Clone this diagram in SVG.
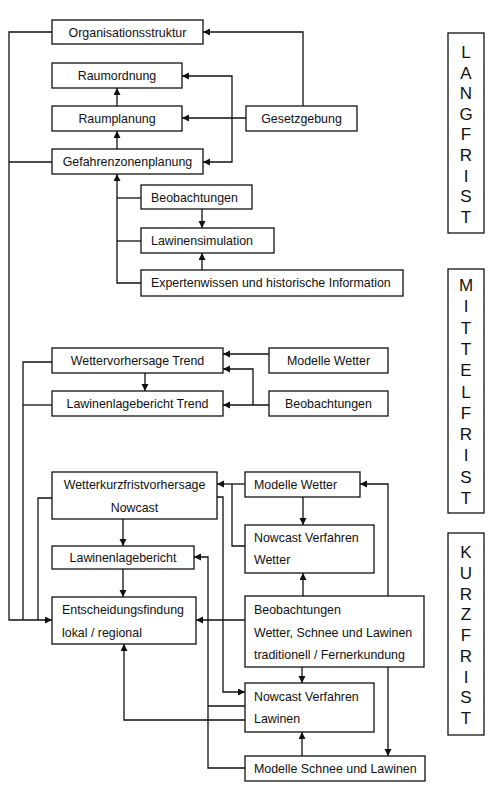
<svg xmlns="http://www.w3.org/2000/svg" width="500" height="795" viewBox="0 0 500 795">
<style>
.b{fill:#fff;stroke:#111;stroke-width:1.3}
.t{font-family:"Liberation Sans",Arial,sans-serif;font-size:12.4px;fill:#111}
.c{text-anchor:middle}
.l{font-family:"Liberation Sans",Arial,sans-serif;font-size:17px;fill:#111;text-anchor:middle}
#conn path{fill:none;stroke:#111;stroke-width:1.3}
.a{marker-end:url(#ah)}
</style>
<defs>
<marker id="ah" markerUnits="userSpaceOnUse" markerWidth="8" markerHeight="8" refX="7" refY="3.5" orient="auto">
<path d="M0,0 L7,3.5 L0,7 z" fill="#111"/>
</marker>
</defs>
<rect width="500" height="795" fill="#fff"/>
<g id="conn">
<path class="a" d="M303,106 V32 H203"/>
<path class="a" d="M246,118 H182"/>
<path class="a" d="M232,118 V76 H182"/>
<path class="a" d="M232,118 V162 H203"/>
<path class="a" d="M117,106 V88"/>
<path class="a" d="M117,149 V131"/>
<path class="a" d="M141,283 H117 V174"/>
<path d="M141,198 H117"/>
<path d="M141,241 H117"/>
<path class="a" d="M202,209 V228"/>
<path class="a" d="M202,270 V253"/>
<path class="a" d="M52,32 H9 V620 H52"/>
<path d="M52,162 H9"/>
<path d="M52,362 H23 V620"/>
<path d="M52,405 H23"/>
<path d="M52,498 H38 V620"/>
<path class="a" d="M269,354 H223"/>
<path class="a" d="M269,405 H223"/>
<path class="a" d="M253,405 V369 H223"/>
<path class="a" d="M145,373 V391"/>
<path class="a" d="M245,484 H217"/>
<path d="M245,546 H232 V484"/>
<path class="a" d="M303,497 V525"/>
<path class="a" d="M303,596 V573"/>
<path class="a" d="M388,596 V484 H360"/>
<path class="a" d="M245,620 H196"/>
<path class="a" d="M217,497 H223 V692 H245"/>
<path class="a" d="M245,768 H208 V557 H194"/>
<path d="M245,706 H208"/>
<path class="a" d="M245,720 H124 V644"/>
<path class="a" d="M302,667 V683"/>
<path class="a" d="M388,667 V756"/>
<path class="a" d="M302,756 V732"/>
<path class="a" d="M123,519 V546"/>
<path class="a" d="M123,569 V597"/>
</g>
<g id="organisationsstruktur"><rect class="b" x="52" y="20" width="151" height="24"/><text class="t c" x="127.5" y="37">Organisationsstruktur</text></g>
<g id="raumordnung"><rect class="b" x="52" y="63" width="130" height="25"/><text class="t c" x="117" y="80">Raumordnung</text></g>
<g id="raumplanung"><rect class="b" x="52" y="106" width="130" height="25"/><text class="t c" x="117" y="123">Raumplanung</text></g>
<g id="gefahrenzonenplanung"><rect class="b" x="52" y="149" width="151" height="25"/><text class="t c" x="127.5" y="166">Gefahrenzonenplanung</text></g>
<g id="gesetzgebung"><rect class="b" x="246" y="106" width="111" height="25"/><text class="t c" x="301.5" y="123">Gesetzgebung</text></g>
<g id="beobachtungen-lang"><rect class="b" x="141" y="185" width="111" height="24"/><text class="t" x="151" y="202">Beobachtungen</text></g>
<g id="lawinensimulation"><rect class="b" x="141" y="228" width="133" height="25"/><text class="t" x="151" y="245">Lawinensimulation</text></g>
<g id="expertenwissen"><rect class="b" x="141" y="270" width="262" height="26"/><text class="t" x="151" y="287">Expertenwissen und historische Information</text></g>
<g id="wettervorhersage-trend"><rect class="b" x="52" y="348" width="171" height="25"/><text class="t c" x="137.5" y="365">Wettervorhersage Trend</text></g>
<g id="lawinenlagebericht-trend"><rect class="b" x="52" y="391" width="171" height="25"/><text class="t c" x="137.5" y="408">Lawinenlagebericht Trend</text></g>
<g id="modelle-wetter-mittel"><rect class="b" x="269" y="348" width="119" height="25"/><text class="t c" x="328.5" y="365">Modelle Wetter</text></g>
<g id="beobachtungen-mittel"><rect class="b" x="269" y="391" width="119" height="25"/><text class="t c" x="328.5" y="408">Beobachtungen</text></g>
<g id="wetterkurzfristvorhersage"><rect class="b" x="52" y="472" width="165" height="47"/><text class="t c" x="134.5" y="489">Wetterkurzfristvorhersage</text><text class="t c" x="134.5" y="512">Nowcast</text></g>
<g id="lawinenlagebericht"><rect class="b" x="52" y="546" width="142" height="23"/><text class="t c" x="123" y="562">Lawinenlagebericht</text></g>
<g id="entscheidungsfindung"><rect class="b" x="52" y="597" width="144" height="47"/><text class="t" x="62" y="614">Entscheidungsfindung</text><text class="t" x="62" y="637">lokal / regional</text></g>
<g id="modelle-wetter-kurz"><rect class="b" x="245" y="472" width="115" height="25"/><text class="t" x="254" y="489">Modelle Wetter</text></g>
<g id="nowcast-wetter"><rect class="b" x="245" y="525" width="129" height="48"/><text class="t" x="254" y="542">Nowcast Verfahren</text><text class="t" x="254" y="564">Wetter</text></g>
<g id="beobachtungen-kurz"><rect class="b" x="245" y="596" width="179" height="71"/><text class="t" x="254" y="614">Beobachtungen</text><text class="t" x="254" y="637">Wetter, Schnee und Lawinen</text><text class="t" x="254" y="659">traditionell / Fernerkundung</text></g>
<g id="nowcast-lawinen"><rect class="b" x="245" y="683" width="129" height="49"/><text class="t" x="254" y="701">Nowcast Verfahren</text><text class="t" x="254" y="723">Lawinen</text></g>
<g id="modelle-schnee"><rect class="b" x="245" y="756" width="180" height="25"/><text class="t" x="254" y="773">Modelle Schnee und Lawinen</text></g>
<g id="langfrist"><rect class="b" x="448" y="33" width="36" height="200"/>
<text class="l" x="466" y="58">L</text><text class="l" x="466" y="79">A</text><text class="l" x="466" y="99">N</text><text class="l" x="466" y="120">G</text><text class="l" x="466" y="140">F</text><text class="l" x="466" y="161">R</text><text class="l" x="466" y="182">I</text><text class="l" x="466" y="202">S</text><text class="l" x="466" y="223">T</text></g>
<g id="mittelfrist"><rect class="b" x="448" y="269" width="36" height="244"/>
<text class="l" x="466" y="291">M</text><text class="l" x="466" y="312">I</text><text class="l" x="466" y="334">T</text><text class="l" x="466" y="355">T</text><text class="l" x="466" y="376">E</text><text class="l" x="466" y="398">L</text><text class="l" x="466" y="419">F</text><text class="l" x="466" y="440">R</text><text class="l" x="466" y="461">I</text><text class="l" x="466" y="483">S</text><text class="l" x="466" y="504">T</text></g>
<g id="kurzfrist"><rect class="b" x="448" y="533" width="36" height="202"/>
<text class="l" x="466" y="558">K</text><text class="l" x="466" y="579">U</text><text class="l" x="466" y="600">R</text><text class="l" x="466" y="620">Z</text><text class="l" x="466" y="641">F</text><text class="l" x="466" y="662">R</text><text class="l" x="466" y="683">I</text><text class="l" x="466" y="703">S</text><text class="l" x="466" y="724">T</text></g>
</svg>
